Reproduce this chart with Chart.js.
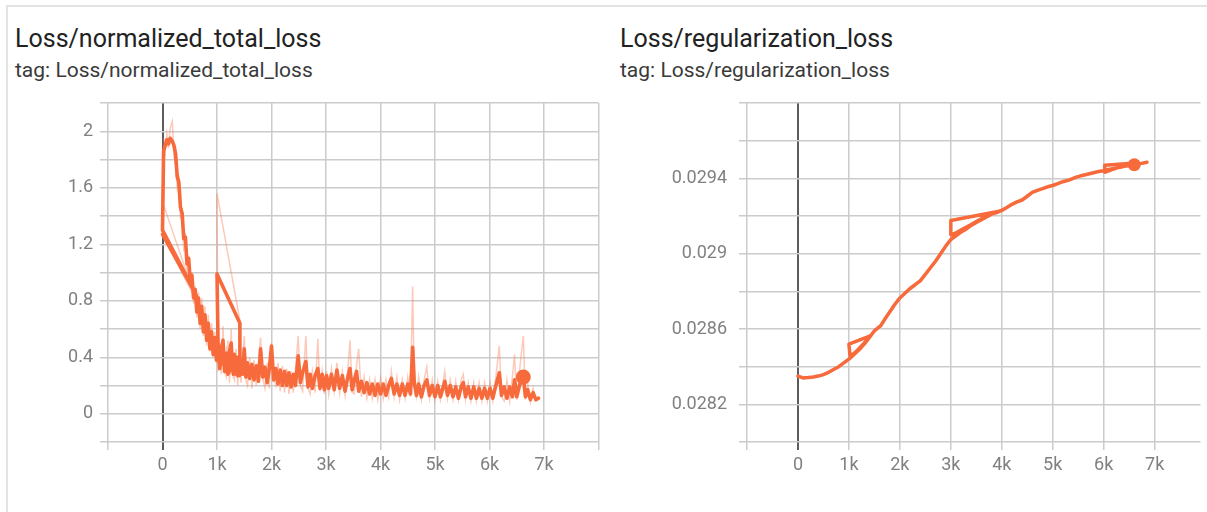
<!DOCTYPE html>
<html>
<head>
<meta charset="utf-8">
<script src="https://cdn.jsdelivr.net/npm/chart.js@4.4.1/dist/chart.umd.min.js"></script>
<style>
  html, body { margin: 0; padding: 0; background: #fff; width: 1207px; height: 512px; overflow: hidden; font-family: Roboto, "Noto Sans", sans-serif; }
  .frame { position: absolute; left: 6px; top: 5px; width: 1220px; height: 530px; border-top: 2px solid #e3e3e3; border-left: 2px solid #e3e3e3; }
  .title { position: absolute; font-size: 25px; color: #222; white-space: nowrap; }
  .tag { position: absolute; font-size: 21px; color: #3a3a3a; white-space: nowrap; }
  .box { position: absolute; top: 95px; height: 390px; }
</style>
</head>
<body>
<div class="frame"></div>
<div class="title" style="left:15px;top:24px">Loss/normalized_total_loss</div>
<div class="tag" style="left:15px;top:58px">tag: Loss/normalized_total_loss</div>
<div class="title" style="left:620px;top:24px">Loss/regularization_loss</div>
<div class="tag" style="left:620px;top:58px">tag: Loss/regularization_loss</div>
<div class="box" style="left:0;width:606px"><canvas id="totalLoss" width="606" height="390"></canvas></div>
<div class="box" style="left:606px;width:601px"><canvas id="regLoss" width="601" height="390"></canvas></div>
<script>
// ---- Loss/normalized_total_loss ----
// Steps are in logging order: a short first attempt, a restart from 0,
// then a resume from the 1k checkpoint.
const totalLossSteps = [
  0, 620, 0, 20, 50, 80, 110, 140, 180, 210,
  240, 270, 300, 330, 360, 390, 420, 450, 480, 510,
  540, 570, 600, 630, 660, 690, 720, 750, 780, 810,
  840, 870, 900, 930, 960, 990, 1020, 1060, 1100, 1140,
  1180, 1220, 1260, 1300, 1340, 1380, 1420, 1420,
  1000, 1020, 1050, 1080, 1110, 1140, 1170, 1200, 1230, 1260,
  1290, 1320, 1350, 1380, 1410, 1440, 1470, 1500, 1530, 1560,
  1600, 1640, 1680, 1720, 1760, 1800, 1840, 1880, 1920, 1960,
  2000, 2040, 2080, 2120, 2160, 2200, 2240, 2280, 2320, 2360,
  2400, 2440, 2490, 2530, 2570, 2630, 2670, 2710, 2750, 2800,
  2850, 2890, 2930, 2970, 3010, 3050, 3100, 3150, 3200, 3250,
  3300, 3350, 3400, 3440, 3480, 3520, 3560, 3600, 3650, 3700,
  3750, 3800, 3850, 3900, 3950, 4000, 4050, 4100, 4150, 4200,
  4250, 4300, 4350, 4400, 4450, 4500, 4550, 4590, 4620, 4660,
  4700, 4750, 4800, 4850, 4900, 4950, 5000, 5050, 5100, 5180,
  5230, 5280, 5330, 5380, 5430, 5480, 5520, 5560, 5610, 5660,
  5710, 5760, 5810, 5860, 5910, 5960, 6010, 6060, 6110, 6180,
  6220, 6270, 6320, 6370, 6420, 6460, 6500, 6550, 6620, 6660,
  6700, 6750, 6800, 6850, 6900
];
const totalLossSmoothed = [
  1.27, 0.84, 1.30, 1.86, 1.90, 1.94, 1.91, 1.95, 1.93, 1.90,
  1.84, 1.68, 1.64, 1.46, 1.42, 1.24, 1.25, 1.06, 1.10, 0.94,
  0.98, 0.82, 0.88, 0.72, 0.82, 0.64, 0.76, 0.58, 0.70, 0.52,
  0.64, 0.46, 0.58, 0.42, 0.54, 0.38, 0.50, 0.34, 0.46, 0.31,
  0.43, 0.29, 0.41, 0.28, 0.40, 0.27, 0.38, 0.64,
  0.99, 0.48, 0.32, 0.46, 0.52, 0.30, 0.42, 0.28, 0.44, 0.50,
  0.30, 0.42, 0.28, 0.40, 0.27, 0.38, 0.28, 0.46, 0.26, 0.36,
  0.25, 0.35, 0.24, 0.34, 0.23, 0.46, 0.26, 0.33, 0.22, 0.32,
  0.48, 0.24, 0.32, 0.21, 0.31, 0.20, 0.30, 0.20, 0.29, 0.19,
  0.28, 0.20, 0.41, 0.22, 0.29, 0.37, 0.19, 0.28, 0.18, 0.27,
  0.32, 0.18, 0.28, 0.17, 0.27, 0.18, 0.28, 0.17, 0.31, 0.18,
  0.27, 0.16, 0.26, 0.32, 0.17, 0.24, 0.30, 0.16, 0.23, 0.15,
  0.22, 0.14, 0.21, 0.13, 0.21, 0.14, 0.21, 0.13, 0.20, 0.25,
  0.14, 0.21, 0.13, 0.21, 0.13, 0.21, 0.14, 0.47, 0.22, 0.13,
  0.21, 0.12, 0.20, 0.24, 0.13, 0.20, 0.12, 0.20, 0.12, 0.23,
  0.13, 0.20, 0.12, 0.19, 0.11, 0.19, 0.22, 0.12, 0.19, 0.11,
  0.19, 0.11, 0.18, 0.11, 0.18, 0.11, 0.18, 0.11, 0.19, 0.29,
  0.13, 0.19, 0.11, 0.19, 0.12, 0.24, 0.12, 0.20, 0.26, 0.12,
  0.17, 0.10, 0.15, 0.10, 0.11
];
const totalLossRaw = [
  1.27, 0.80, 1.50, 1.95, 1.86, 1.98, 1.88, 2.02, 2.07, 1.82,
  1.76, 1.60, 1.66, 1.38, 1.46, 1.15, 1.28, 1.00, 1.12, 0.88,
  1.00, 0.78, 0.90, 0.68, 0.86, 0.60, 0.82, 0.55, 0.76, 0.48,
  0.70, 0.44, 0.64, 0.40, 0.58, 0.36, 0.54, 0.32, 0.52, 0.28,
  0.48, 0.26, 0.46, 0.25, 0.44, 0.24, 0.40, 0.66,
  1.56, 0.30, 0.50, 0.28, 0.62, 0.30, 0.26, 0.52, 0.22, 0.60,
  0.28, 0.24, 0.46, 0.20, 0.42, 0.22, 0.40, 0.55, 0.24, 0.20,
  0.40, 0.18, 0.38, 0.20, 0.36, 0.54, 0.25, 0.18, 0.36, 0.18,
  0.50, 0.26, 0.20, 0.36, 0.16, 0.34, 0.15, 0.32, 0.14, 0.30,
  0.15, 0.32, 0.55, 0.20, 0.16, 0.55, 0.18, 0.14, 0.30, 0.15,
  0.53, 0.16, 0.30, 0.14, 0.30, 0.14, 0.32, 0.16, 0.36, 0.15,
  0.30, 0.13, 0.30, 0.52, 0.15, 0.14, 0.34, 0.46, 0.12, 0.26,
  0.11, 0.24, 0.11, 0.24, 0.10, 0.25, 0.11, 0.24, 0.12, 0.30,
  0.12, 0.26, 0.10, 0.24, 0.11, 0.26, 0.12, 0.90, 0.20, 0.12,
  0.26, 0.10, 0.24, 0.33, 0.11, 0.24, 0.10, 0.23, 0.10, 0.30,
  0.11, 0.24, 0.10, 0.23, 0.10, 0.24, 0.28, 0.10, 0.22, 0.09,
  0.22, 0.09, 0.22, 0.09, 0.22, 0.09, 0.22, 0.09, 0.24, 0.48,
  0.12, 0.09, 0.24, 0.09, 0.26, 0.42, 0.10, 0.30, 0.55, 0.10,
  0.22, 0.08, 0.18, 0.09, 0.10
];
const totalLossMarkerStep = [6620];
const totalLossMarkerValue = [0.26];
const totalLossXTicks = [-1000, 0, 1000, 2000, 3000, 4000, 5000, 6000, 7000, 8000];
const totalLossYTicks = [-0.2, 0, 0.2, 0.4, 0.6, 0.8, 1.0, 1.2, 1.4, 1.6, 1.8, 2.0, 2.2];
const totalLossYLabelled = [0, 0.4, 0.8, 1.2, 1.6, 2.0];

// ---- Loss/regularization_loss ----
const regSteps = [
  0, 100, 200, 300, 400, 500, 600, 700, 800, 900,
  1000, 1100, 1200, 1300, 1430, 1000, 1020, 1100, 1200, 1300,
  1400, 1500, 1620, 1700, 1800, 1900, 2000, 2100, 2200, 2300,
  2400, 2500, 2600, 2700, 2800, 2900, 3000, 3100, 3200, 3300,
  3400, 3500, 3600, 3700, 3800, 3950, 3000, 3000, 3100, 3200,
  3300, 3400, 3500, 3600, 3700, 3800, 3900, 4000, 4100, 4200,
  4300, 4400, 4500, 4600, 4700, 4800, 4900, 5000, 5100, 5200,
  5330, 5450, 5560, 5660, 5780, 5900, 6000, 6100, 6250, 6400,
  6560, 6020, 6020, 6150, 6300, 6450, 6600, 6720, 6850
];
const regSmoothed = [
  0.028350, 0.028340, 0.028342, 0.028345, 0.028350, 0.028358, 0.028370, 0.028385, 0.028400, 0.028420,
  0.028440, 0.028465, 0.028490, 0.028520, 0.028565, 0.028520, 0.028460, 0.028470, 0.028495, 0.028525,
  0.028555, 0.028590, 0.028616, 0.028650, 0.028690, 0.028730, 0.028765, 0.028790, 0.028815, 0.028835,
  0.028856, 0.028890, 0.028925, 0.028960, 0.029000, 0.029040, 0.029075, 0.029095, 0.029115, 0.029130,
  0.029150, 0.029165, 0.029180, 0.029195, 0.029210, 0.029225, 0.029176, 0.029100, 0.029110, 0.029125,
  0.029140, 0.029155, 0.029170, 0.029185, 0.029200, 0.029210, 0.029218, 0.029230, 0.029245, 0.029262,
  0.029275, 0.029285, 0.029305, 0.029325, 0.029336, 0.029345, 0.029355, 0.029362, 0.029372, 0.029382,
  0.029392, 0.029405, 0.029414, 0.029420, 0.029428, 0.029436, 0.029440, 0.029447, 0.029455, 0.029465,
  0.029480, 0.029469, 0.029432, 0.029445, 0.029458, 0.029466, 0.029472, 0.029478, 0.029485
];
const regRaw = [
  0.028352, 0.028336, 0.028346, 0.028341, 0.028355, 0.028362, 0.028374, 0.028390, 0.028405, 0.028426,
  0.028446, 0.028470, 0.028496, 0.028527, 0.028570, 0.028450, 0.028455, 0.028476, 0.028500, 0.028530,
  0.028560, 0.028596, 0.028622, 0.028656, 0.028697, 0.028736, 0.028770, 0.028795, 0.028820, 0.028840,
  0.028862, 0.028896, 0.028932, 0.028966, 0.029006, 0.029046, 0.029080, 0.029100, 0.029120, 0.029135,
  0.029155, 0.029170, 0.029185, 0.029200, 0.029215, 0.029230, 0.029090, 0.029095, 0.029115, 0.029130,
  0.029145, 0.029160, 0.029176, 0.029190, 0.029204, 0.029214, 0.029222, 0.029236, 0.029250, 0.029266,
  0.029280, 0.029290, 0.029312, 0.029330, 0.029340, 0.029350, 0.029360, 0.029366, 0.029376, 0.029386,
  0.029396, 0.029410, 0.029418, 0.029424, 0.029432, 0.029440, 0.029444, 0.029451, 0.029459, 0.029469,
  0.029484, 0.029440, 0.029436, 0.029449, 0.029462, 0.029470, 0.029476, 0.029482, 0.029488
];
const regMarkerStep = [6600];
const regMarkerValue = [0.029472];
const regXTicks = [-1000, 0, 1000, 2000, 3000, 4000, 5000, 6000, 7000];
const regYTicks = [0.0280, 0.0282, 0.0284, 0.0286, 0.0288, 0.0290, 0.0292, 0.0294, 0.0296, 0.0298];
const regYLabelled = [0.0282, 0.0286, 0.0290, 0.0294];

// ---- shared drawing helpers ----
const LINE = '#f76a3b';
const RAW = 'rgba(250, 120, 80, 0.4)';
const GRID = '#cbcbcb';
const AXIS = '#5c5c5c';
const TICK_FONT = { family: 'Roboto', size: 18 };
const TICK_COLOR = '#808080';

function points(xs, ys) { return xs.map((x, i) => ({ x: x, y: ys[i] })); }
function near(a, b) { return Math.abs(a - b) < 1e-9; }
function stepLabel(v) { return v === 0 ? '0' : (v / 1000) + 'k'; }

function buildChart(id, cfg) {
  const gridColor = ctx => (ctx.tick && near(ctx.tick.value, 0)) ? AXIS : GRID;
  const gridWidth = ctx => (ctx.tick && near(ctx.tick.value, 0)) ? 2 : 1.5;
  return new Chart(document.getElementById(id), {
    type: 'line',
    data: {
      datasets: [
        { data: points(cfg.markerX, cfg.markerY), showLine: false, pointRadius: cfg.markerR,
          pointBackgroundColor: LINE, pointBorderWidth: 0, order: 0 },
        { data: points(cfg.steps, cfg.smoothed), borderColor: LINE, borderWidth: cfg.lineW,
          pointRadius: 0, tension: 0, borderJoinStyle: 'round', borderCapStyle: 'round', order: 1 },
        { data: points(cfg.steps, cfg.raw), borderColor: RAW, borderWidth: 1.5,
          pointRadius: 0, tension: 0, order: 2 }
      ]
    },
    options: {
      responsive: false,
      animation: false,
      events: [],
      layout: { padding: { top: 8, right: cfg.padRight, left: 0, bottom: 0 } },
      plugins: { legend: { display: false }, tooltip: { enabled: false } },
      scales: {
        x: {
          type: 'linear', min: cfg.xMin, max: cfg.xMax,
          afterBuildTicks: s => { s.ticks = cfg.xTicks.map(v => ({ value: v })); },
          afterFit: s => { s.height = 43; s.paddingLeft = 0; s.paddingRight = 0; },
          grid: { color: gridColor, lineWidth: gridWidth, tickLength: 8, tickColor: gridColor },
          border: { display: false },
          ticks: { font: TICK_FONT, color: TICK_COLOR, padding: 5, maxRotation: 0, autoSkip: false,
                   callback: v => (v < 0 || v > 7000) ? '' : stepLabel(v) }
        },
        y: {
          type: 'linear', min: cfg.yMin, max: cfg.yMax,
          afterBuildTicks: s => { s.ticks = cfg.yTicks.map(v => ({ value: v })); },
          afterFit: s => { s.width = cfg.yWidth; s.paddingTop = 0; s.paddingBottom = 0; },
          grid: { color: GRID, lineWidth: 1.5, tickLength: 8 },
          border: { display: false },
          ticks: { font: TICK_FONT, color: TICK_COLOR, padding: cfg.yPad, autoSkip: false,
                   callback: v => cfg.yLabelled.some(l => near(l, v)) ? String(+v.toFixed(5)) : '' }
        }
      }
    }
  });
}

buildChart('totalLoss', {
  steps: totalLossSteps, smoothed: totalLossSmoothed, raw: totalLossRaw,
  markerX: totalLossMarkerStep, markerY: totalLossMarkerValue, markerR: 7.5, lineW: 3.6,
  xMin: -1000, xMax: 8000, xTicks: totalLossXTicks,
  yMin: -0.2, yMax: 2.2, yTicks: totalLossYTicks, yLabelled: totalLossYLabelled,
  yWidth: 108, yPad: 7, padRight: 5
});

buildChart('regLoss', {
  steps: regSteps, smoothed: regSmoothed, raw: regRaw,
  markerX: regMarkerStep, markerY: regMarkerValue, markerR: 6.5, lineW: 3.5,
  xMin: -1000, xMax: 7900, xTicks: regXTicks,
  yMin: 0.0280, yMax: 0.0298, yTicks: regYTicks, yLabelled: regYLabelled,
  yWidth: 141, yPad: 12, padRight: 4
});
</script>
</body>
</html>
